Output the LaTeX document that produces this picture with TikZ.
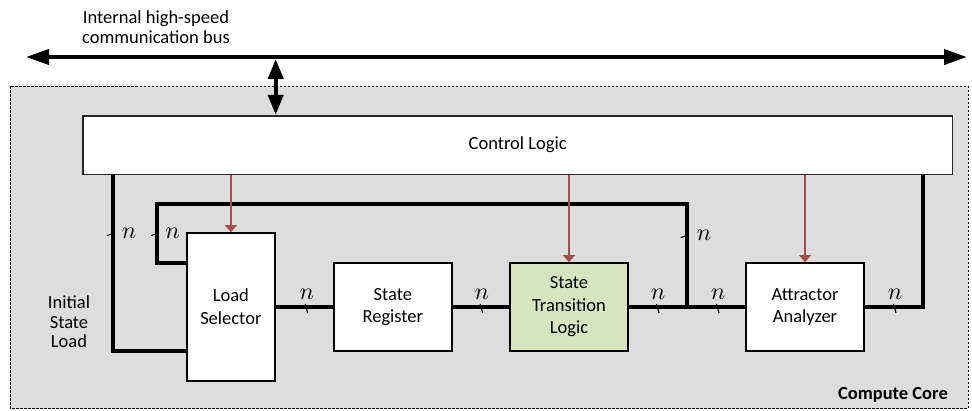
\documentclass[tikz,border=0pt]{standalone}
\usepackage{graphicx}
\usepackage{fontspec}
\setmainfont{Carlito}
\usetikzlibrary{arrows.meta}
\definecolor{coregray}{HTML}{DDDDDD}
\definecolor{stlgreen}{HTML}{D7E4BD}
\definecolor{ctlred}{RGB}{160,80,75}
\tikzset{
  blk/.style={draw=black, line width=1.6pt, fill=white, align=center, inner sep=0pt,
     font=\fontsize{18.5}{22.5}\selectfont},
  wire/.style={line width=4pt, line join=miter},
  ctlarrow/.style={draw=ctlred, line width=1.3pt, -{Triangle[length=7pt,width=12pt]}},
  tickline/.style={line width=1.1pt},
  nlab/.style={inner sep=0pt},
  txt/.style={align=center, inner sep=0pt, font=\fontsize{18.5}{20}\selectfont},
}
\newcommand\bign{\scalebox{2.4}{$n$}}
\newcommand\vtick[1]{\draw[tickline,shift={(#1)}] (-6,1.5) -- (2,-1);}
\newcommand\htick[1]{\draw[tickline,shift={(#1)}] (-1.5,-3) -- (1,6);}
\begin{document}
\begin{tikzpicture}[x=1pt,y=-1pt]
\useasboundingbox (0,0) rectangle (972,410);
% compute core
\draw[dashed, dash pattern=on 2.5pt off 1.5pt, line width=1pt, fill=coregray] (10,86) rectangle (968,408);
\node[anchor=east, inner sep=0pt, font=\fontsize{18.5}{20}\selectfont\bfseries] (cc) at (948,395) {Compute Core};
% bus
\coordinate (BL) at (26,57);
\coordinate (BR) at (967,57);
\draw[line width=4pt, {Triangle[length=23pt,width=15pt]}-{Triangle[length=23pt,width=15pt]}] (BL) -- (BR);
\node[txt] (buslab) at (156,27) {Internal high-speed\\communication bus};
% blocks
\node[blk, draw=black!85, minimum width=869.4pt, minimum height=58.6pt] (ctrl) at (517.7,145) {Control Logic};
\node[blk, minimum width=88.3pt, minimum height=147.7pt] (LS) at (230.85,306.85) {Load\\Selector};
\node[blk, minimum width=117.7pt, minimum height=88pt] (SR) at (392.85,307) {State\\Register};
\node[blk, fill=stlgreen, minimum width=118pt, minimum height=88pt] (STL) at (569,307) {State\\Transition\\Logic};
\node[blk, minimum width=118pt, minimum height=88pt] (AA) at (805,307) {Attractor\\Analyzer};
% bus to control
\coordinate (BT) at (275.7,59);
\draw[line width=4pt, {Triangle[length=20pt,width=15pt]}-{Triangle[length=20pt,width=15pt]}] (BT) -- (BT |- ctrl.north);
% data wires
\coordinate (J) at (686.7,307);
\coordinate (R) at (923,307);
\coordinate (L) at (113,351);
\coordinate (FT) at (686.7,204);
\coordinate (FL) at (157,204);
\coordinate (FB) at (157,263);
\draw[wire] (LS.east |- SR.west) -- (SR.west);
\draw[wire] (SR.east) -- (STL.west);
\draw[wire] (STL.east) -- (AA.west);
\draw[wire] (AA.east) -- (R) -- (R |- ctrl.south);
\draw[wire] (L |- ctrl.south) -- (L) -- (L -| LS.west);
\draw[wire] (J) -- (FT) -- (FL) -- (FB) -- (FB -| LS.west);
% control arrows
\draw[ctlarrow] (ctrl.south -| LS.north) -- (LS.north);
\draw[ctlarrow] (ctrl.south -| STL.north) -- (STL.north);
\draw[ctlarrow] (ctrl.south -| AA.north) -- (AA.north);
% initial state load
\node[txt, font=\fontsize{18.5}{19.5}\selectfont] (isl) at (69,322) {Initial\\State\\Load};
% bus width marks
\vtick{113,234} \node[nlab] (n1) at (129,233) {\bign};
\vtick{157,234} \node[nlab] (n2) at (172.5,233) {\bign};
\vtick{686.7,236} \node[nlab] (n3) at (704,235) {\bign};
\htick{306.7,307} \node[nlab] (n4) at (306.7,294) {\bign};
\htick{481.7,307} \node[nlab] (n5) at (481.7,294) {\bign};
\htick{658,307} \node[nlab] (n6) at (658,294) {\bign};
\htick{718,307} \node[nlab] (n7) at (718,294) {\bign};
\htick{895,307} \node[nlab] (n8) at (895,294) {\bign};
\end{tikzpicture}
\end{document}
